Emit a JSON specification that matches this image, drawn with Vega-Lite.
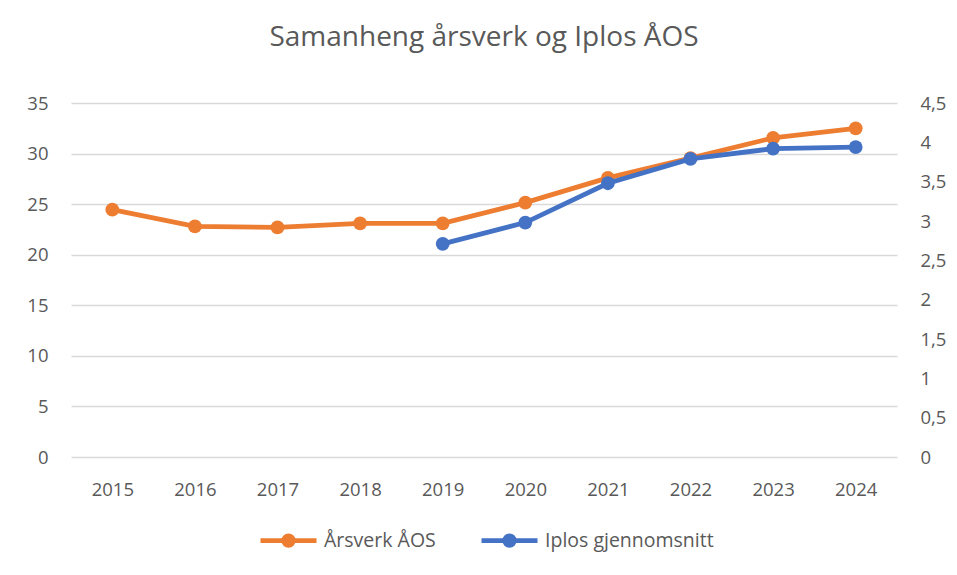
{
  "$schema": "https://vega.github.io/schema/vega-lite/v6.json",
  "width": 826,
  "height": 354,
  "autosize": {"type": "none"},
  "padding": {"left": 71, "top": 103, "right": 60, "bottom": 118},
  "background": "white",
  "title": {
    "text": "Samanheng årsverk og Iplos ÅOS",
    "font": "Open Sans",
    "fontSize": 28,
    "fontWeight": "normal",
    "color": "#595959",
    "anchor": "middle",
    "baseline": "alphabetic",
    "offset": 20
  },
  "data": {
    "values": [
      {"year": "2015", "arsverk": 24.45, "iplos": null},
      {"year": "2016", "arsverk": 22.8, "iplos": null},
      {"year": "2017", "arsverk": 22.7, "iplos": null},
      {"year": "2018", "arsverk": 23.1, "iplos": null},
      {"year": "2019", "arsverk": 23.1, "iplos": 2.71},
      {"year": "2020", "arsverk": 25.15, "iplos": 2.98},
      {"year": "2021", "arsverk": 27.6, "iplos": 3.48},
      {"year": "2022", "arsverk": 29.55, "iplos": 3.79},
      {"year": "2023", "arsverk": 31.55, "iplos": 3.92},
      {"year": "2024", "arsverk": 32.5, "iplos": 3.94}
    ]
  },
  "encoding": {
    "x": {
      "field": "year",
      "type": "ordinal",
      "scale": {"padding": 0.5},
      "axis": {
        "title": null,
        "labelAngle": 0,
        "domain": false,
        "ticks": false,
        "labelPadding": 23,
        "labelFont": "Open Sans",
        "labelFontSize": 18.5,
        "labelColor": "#595959"
      }
    }
  },
  "layer": [
    {
      "mark": {"type": "line", "strokeWidth": 4.8, "point": {"filled": true, "size": 190}},
      "encoding": {
        "y": {
          "field": "arsverk",
          "type": "quantitative",
          "scale": {"domain": [0, 35], "nice": false},
          "axis": {
            "title": null,
            "values": [0, 5, 10, 15, 20, 25, 30, 35],
            "domain": false,
            "ticks": false,
            "grid": true,
            "gridColor": "#D9D9D9",
            "gridWidth": 1.3,
            "labelPadding": 23,
            "labelFont": "Open Sans",
            "labelFontSize": 18.5,
            "labelColor": "#595959"
          }
        },
        "color": {
          "datum": "Årsverk ÅOS",
          "scale": {"domain": ["Årsverk ÅOS", "Iplos gjennomsnitt"], "range": ["#ED7D31", "#4472C4"]},
          "legend": {
            "title": null,
            "orient": "none",
            "direction": "horizontal",
            "legendX": 187,
            "legendY": 407,
            "padding": 0,
            "columnPadding": 35,
            "labelOffset": 5,
            "labelLimit": 400,
            "symbolOffset": 0,
            "symbolType": "M-1,0H1M0.17,0A0.17,0.17 0 1 1 -0.17,0A0.17,0.17 0 1 1 0.17,0Z",
            "symbolSize": 3136,
            "symbolStrokeWidth": 4.8,
            "labelFont": "Open Sans",
            "labelFontSize": 19.5,
            "labelColor": "#595959",
            "encode": {
              "symbols": {
                "update": {
                  "fill": {"scale": "color", "field": "value"},
                  "stroke": {"scale": "color", "field": "value"},
                  "opacity": {"value": 1}
                }
              }
            }
          }
        }
      }
    },
    {
      "mark": {"type": "line", "strokeWidth": 4.8, "point": {"filled": true, "size": 190}},
      "encoding": {
        "y": {
          "field": "iplos",
          "type": "quantitative",
          "scale": {"domain": [0, 4.5], "nice": false},
          "axis": {
            "title": null,
            "orient": "right",
            "values": [0, 0.5, 1, 1.5, 2, 2.5, 3, 3.5, 4, 4.5],
            "labelExpr": "replace(format(datum.value, '.1~f'), '.', ',')",
            "domain": false,
            "ticks": false,
            "grid": false,
            "labelPadding": 23,
            "labelFont": "Open Sans",
            "labelFontSize": 18.5,
            "labelColor": "#595959"
          }
        },
        "color": {"datum": "Iplos gjennomsnitt"}
      }
    }
  ],
  "resolve": {"scale": {"y": "independent"}},
  "config": {"view": {"stroke": null}}
}
